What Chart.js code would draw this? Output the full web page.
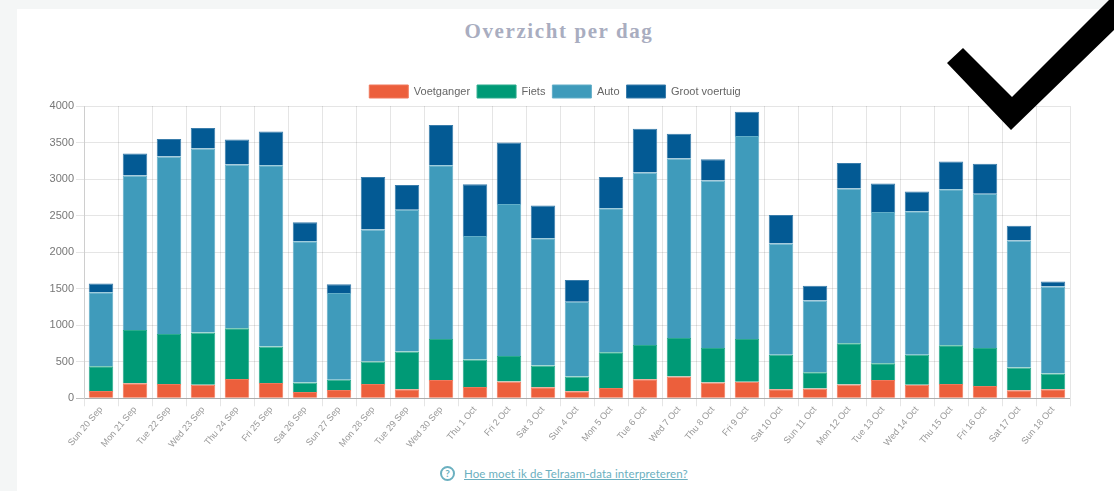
<!DOCTYPE html>
<html><head><meta charset="utf-8">
<style>
html,body{margin:0;padding:0;width:1114px;height:491px;overflow:hidden;background:#f4f6f6}
#card{position:absolute;left:17px;top:9px;width:1097px;height:482px;background:#fff}
#title{position:absolute;left:2px;top:19px;width:1114px;text-align:center;font:bold 21px "Liberation Serif",serif;letter-spacing:1.6px;color:#a9adc0;margin:0;line-height:24px}
#wrap{position:absolute;left:40px;top:71px;width:1057px;height:377px}
#help{position:absolute;left:440px;top:464px;height:18px;display:flex;align-items:center;font:11.5px Lato,sans-serif;color:#6bb0c0}
#help a{color:#6bb0c0;text-decoration:underline;margin-left:9px;letter-spacing:.1px}
#help span{display:inline-block;box-sizing:border-box;width:15px;height:15px;border:2px solid #6bb0c0;border-radius:50%;text-align:center;font:bold 10px/11px Lato,sans-serif}
svg{position:absolute;left:0;top:0}
</style></head><body>
<div id="card"></div>
<h1 id="title">Overzicht per dag</h1>
<div id="wrap"><canvas id="c" width="1057" height="377"></canvas></div>
<div id="help"><span>?</span><a>Hoe moet ik de Telraam-data interpreteren?</a></div>
<svg width="1114" height="491"><polygon points="947,63 963,48 1012,97 1109,0 1114,0 1114,30 1011,130" fill="#000"/></svg>
<script src="https://cdn.jsdelivr.net/npm/chart.js@4"></script>
<script>
const days=["Sun 20 Sep","Mon 21 Sep","Tue 22 Sep","Wed 23 Sep","Thu 24 Sep","Fri 25 Sep","Sat 26 Sep","Sun 27 Sep","Mon 28 Sep","Tue 29 Sep","Wed 30 Sep","Thu 1 Oct","Fri 2 Oct","Sat 3 Oct","Sun 4 Oct","Mon 5 Oct","Tue 6 Oct","Wed 7 Oct","Thu 8 Oct","Fri 9 Oct","Sat 10 Oct","Sun 11 Oct","Mon 12 Oct","Tue 13 Oct","Wed 14 Oct","Thu 15 Oct","Fri 16 Oct","Sat 17 Oct","Sun 18 Oct"];
const voetganger=[100,205,195,185,265,210,85,115,195,125,250,155,230,150,95,140,260,300,215,225,125,135,190,250,185,195,170,110,125];
const fiets=[340,730,685,715,695,500,130,140,310,515,560,375,350,300,205,490,470,525,475,585,470,220,565,230,410,530,520,310,215];
const auto=[1010,2115,2430,2520,2240,2480,1935,1185,1805,1940,2380,1690,2080,1740,1020,1970,2360,2455,2290,2780,1525,985,2115,2070,1965,2135,2110,1740,1190];
const grootVoertuig=[120,300,240,280,340,460,260,120,720,340,550,710,840,450,300,430,600,340,290,330,390,200,350,390,270,380,410,200,70];
const font='"Liberation Sans",Arial,sans-serif';
const ds=(label,data,color,edge)=>({label,data,backgroundColor:color,borderColor:edge,borderWidth:1,barPercentage:.9,categoryPercentage:.8});
new Chart(document.getElementById('c'),{
  type:'bar',
  data:{labels:days,datasets:[
    ds('Voetganger',voetganger,'#ec5f3c','#f0795c'),
    ds('Fiets',fiets,'#009a76','#2aab8d'),
    ds('Auto',auto,'#3f9bbb','#62aec8'),
    ds('Groot voertuig',grootVoertuig,'#035a94','#3a7dab')
  ]},
  plugins:[{id:'legendNudge',afterLayout(chart){chart.legend.top+=2;}}],
  options:{
    responsive:false,animation:false,
    layout:{padding:{left:0,right:27,top:5,bottom:0}},
    plugins:{legend:{labels:{boxWidth:39,boxHeight:13,font:{size:11,family:font},color:'#666',padding:7}},tooltip:{enabled:false}},
    scales:{
      x:{stacked:true,grid:{color:'rgba(0,0,0,.1)',offset:true,tickLength:8},border:{color:'rgba(0,0,0,.1)'},
        ticks:{autoSkip:false,minRotation:50,maxRotation:50,font:{size:9.2,family:font},color:'#999',padding:-2}},
      y:{stacked:true,min:0,max:4000,afterFit:s=>{s.width=44},
        grid:{color:c=>c.tick&&c.tick.value===0?'rgba(0,0,0,.25)':'rgba(0,0,0,.1)',tickLength:8},border:{color:'rgba(0,0,0,.1)'},
        ticks:{stepSize:500,callback:v=>String(v),font:{size:11,family:font},color:'#777',padding:2}}
    }
  }
});
</script></body></html>
